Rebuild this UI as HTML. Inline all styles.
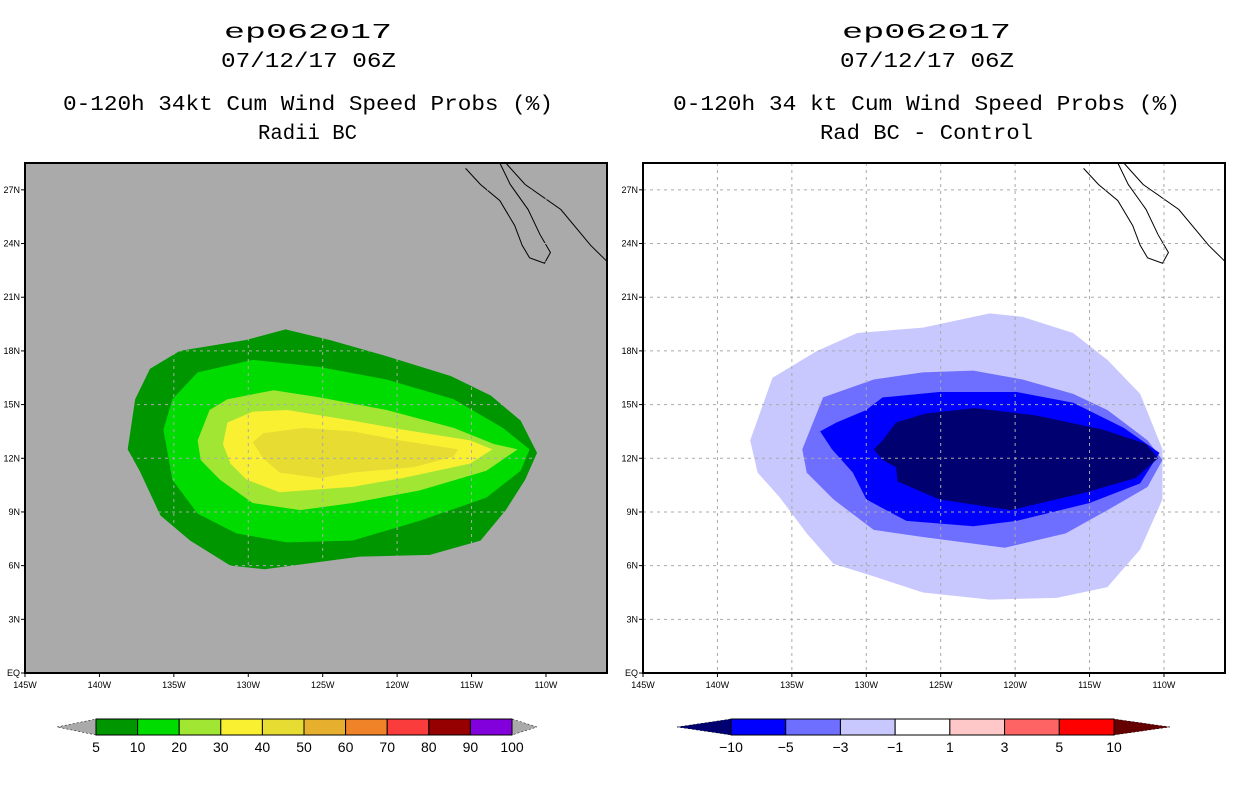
<!DOCTYPE html>
<html><head><meta charset="utf-8"><style>
body{margin:0;background:#fff;width:1236px;height:800px;overflow:hidden}
svg text{font-family:"Liberation Sans",sans-serif}
svg .ttl{font-family:"Liberation Mono",monospace}
</style></head><body>
<svg id="s" width="1236" height="800" xmlns="http://www.w3.org/2000/svg">
<g font-size="21" fill="#000" class="ttl">
<text class="ttl" x="224" y="38" textLength="168" lengthAdjust="spacingAndGlyphs">ep062017</text>
<text class="ttl" x="221" y="67" textLength="175" lengthAdjust="spacingAndGlyphs">07/12/17 06Z</text>
<text class="ttl" x="63" y="110" textLength="490" lengthAdjust="spacingAndGlyphs">0-120h 34kt Cum Wind Speed Probs (%)</text>
<text class="ttl" x="258" y="139" textLength="99" lengthAdjust="spacingAndGlyphs">Radii BC</text></g>
<g font-size="21" fill="#000">
<text class="ttl" x="842" y="38" textLength="169" lengthAdjust="spacingAndGlyphs">ep062017</text>
<text class="ttl" x="840" y="67" textLength="174" lengthAdjust="spacingAndGlyphs">07/12/17 06Z</text>
<text class="ttl" x="673" y="110" textLength="507" lengthAdjust="spacingAndGlyphs">0-120h 34 kt Cum Wind Speed Probs (%)</text>
<text class="ttl" x="820" y="139" textLength="213" lengthAdjust="spacingAndGlyphs">Rad BC - Control</text></g>
</svg>
<script>
const lonTicks=[-145,-140,-135,-130,-125,-120,-115,-110];
const latTicks=[0,3,6,9,12,15,18,21,24,27];
const leftLevels=[5,10,20,30,40,50,60,70,80,90,100];
const leftColors=["#009600","#00dc00","#a0e632","#faf032","#e6dc32","#e6af2d","#f08228","#fa3c3c","#960000","#8200dc"];
const rightLevels=[-10,-5,-3,-1,1,3,5,10];
const rightColors=["#000070","#0000ff","#6e6eff","#c8c8ff","#ffffff","#ffc8c8","#ff6464","#ff0000","#640000"];
const p5=[[-138.1,12.5],[-137.6,15.3],[-136.6,17.0],[-134.6,18.0],[-130.2,18.6],[-127.5,19.2],[-124.5,18.6],[-121.1,17.8],[-116.4,16.6],[-113.7,15.5],[-111.7,14.1],[-110.6,12.3],[-111.4,10.8],[-112.7,9.1],[-114.4,7.4],[-117.8,6.6],[-122.5,6.5],[-128.9,5.8],[-131.2,6.0],[-133.9,7.4],[-135.9,8.8],[-137.3,11.3]];
const p10=[[-135.7,13.6],[-135.1,15.3],[-133.4,16.8],[-129.7,17.5],[-125.2,17.1],[-120.7,16.4],[-116.2,15.3],[-112.9,13.7],[-111.1,12.5],[-111.7,11.3],[-114.0,9.8],[-118.5,8.5],[-123.0,7.4],[-127.4,7.3],[-130.8,7.8],[-133.4,8.9],[-135.1,10.8]];
const p20=[[-133.4,13.0],[-132.6,14.7],[-131.4,15.3],[-128.3,15.8],[-125.2,15.4],[-120.7,14.7],[-116.2,13.7],[-113.5,12.8],[-111.9,12.5],[-114.0,11.3],[-118.5,10.2],[-123.0,9.5],[-126.5,9.1],[-129.7,9.5],[-131.9,10.8],[-133.2,11.9]];
const p30=[[-131.7,12.8],[-131.4,14.0],[-129.7,14.6],[-127.4,14.7],[-123.0,14.1],[-119.6,13.6],[-115.1,13.0],[-113.6,12.5],[-115.1,11.7],[-119.6,10.9],[-123.0,10.4],[-127.9,10.1],[-130.1,10.8],[-131.2,11.7]];
const p40=[[-129.7,12.9],[-129.0,13.4],[-126.3,13.7],[-123.0,13.5],[-119.8,13.0],[-115.9,12.5],[-116.2,12.1],[-118.9,11.5],[-123.0,11.2],[-125.2,10.9],[-127.9,11.2],[-129.0,12.0]];
const d1=[[-137.8,13.0],[-136.3,16.5],[-133.3,18.0],[-130.6,19.0],[-126.2,19.3],[-121.7,20.1],[-119.5,19.9],[-116.1,19.0],[-113.8,17.5],[-111.6,15.6],[-110.1,12.5],[-110.1,9.7],[-111.6,6.9],[-113.8,4.8],[-117.2,4.2],[-121.7,4.1],[-126.2,4.5],[-129.5,5.4],[-132.2,6.1],[-134.0,7.8],[-135.8,9.8],[-137.3,11.2]];
const d3=[[-134.3,12.5],[-132.9,15.4],[-129.5,16.4],[-126.2,16.8],[-122.8,16.9],[-119.5,16.4],[-116.1,15.6],[-113.8,14.7],[-111.1,13.0],[-110.1,11.9],[-111.1,10.4],[-113.8,9.1],[-116.6,7.8],[-120.7,7.0],[-126.2,7.6],[-129.5,8.0],[-132.2,9.7],[-134.0,11.2]];
const d5=[[-133.1,13.5],[-132.0,14.0],[-130.0,14.7],[-128.9,15.4],[-125.1,15.7],[-119.9,15.7],[-116.1,15.1],[-112.7,13.7],[-110.3,12.3],[-111.6,10.6],[-115.0,9.5],[-119.9,8.5],[-122.8,8.2],[-127.3,8.5],[-130.0,9.7],[-130.9,11.2],[-132.3,12.5]];
const d10=[[-129.5,12.5],[-128.9,13.0],[-128.0,14.0],[-126.0,14.5],[-122.7,14.8],[-118.6,14.4],[-114.1,13.6],[-111.2,12.8],[-110.4,12.0],[-111.9,10.9],[-115.2,10.1],[-120.3,9.1],[-125.1,9.7],[-127.9,10.7],[-128.0,11.5],[-128.9,11.9]];
const baja=[[-115.4,28.2],[-114.4,27.3],[-113.1,26.4],[-112.1,25.0],[-111.6,23.9],[-111.1,23.2],[-110.1,22.9],[-109.7,23.5],[-110.4,24.5],[-111.2,25.9],[-112.4,27.3],[-113.1,28.5]];
const mainland=[[-112.7,28.5],[-111.4,27.3],[-109.0,25.9],[-107.0,23.9],[-105.9,23.0]];
const NS="http://www.w3.org/2000/svg",svg=document.getElementById('s');
function mk(t,a,p){const e=document.createElementNS(NS,t);for(const k in a)e.setAttribute(k,a[k]);(p||svg).appendChild(e);return e;}
const W=582,H=510,PT=163,lon0=-145,lon1=-105.9,lat0=0,lat1=28.5;
function drawPanel(x0,bg,polys,cols,name){
  const X=l=>x0+(l-lon0)/(lon1-lon0)*W, Y=l=>PT+H-(l-lat0)/(lat1-lat0)*H;
  const g=mk('g',{});
  
  
  const bgr=mk('rect',{x:x0,y:PT,width:W,height:H,fill:bg},g);
  
  
  polys.forEach((p,i)=>{
    const e=mk('polygon',{points:p.map(q=>X(q[0])+','+Y(q[1])).join(' '),fill:cols[i]},g);
    
    
  });
  [baja,mainland].forEach(c=>{
    const e=mk('polyline',{points:c.map(q=>X(q[0])+','+Y(q[1])).join(' '),fill:'none',stroke:'#000','stroke-width':1},g);
    
    
  });
  lonTicks.forEach(l=>{
    const x=X(l);
    if(l>lon0){const e=mk('line',{x1:x,x2:x,y1:PT,y2:PT+H,stroke:'#aaa','stroke-dasharray':'3,4'},g);
    }
    mk('line',{x1:x,x2:x,y1:PT+H,y2:PT+H+4,stroke:'#000'},g);
    const t=mk('text',{x:x,y:PT+H+15,'font-size':9,'text-anchor':'middle'},g);
    t.textContent=Math.abs(l)+'W';
    
  });
  latTicks.forEach(l=>{
    const y=Y(l);
    if(l>0){const e=mk('line',{x1:x0,x2:x0+W,y1:y,y2:y,stroke:'#aaa','stroke-dasharray':'3,4'},g);
    }
    mk('line',{x1:x0-4,x2:x0,y1:y,y2:y,stroke:'#000'},g);
    const t=mk('text',{x:x0-5,y:y+3,'font-size':9,'text-anchor':'end'},g);
    t.textContent=l===0?'EQ':l+'N';
    
  });
  const f=mk('rect',{x:x0,y:PT,width:W,height:H,fill:'none',stroke:'#000','stroke-width':2},g);
  
}
drawPanel(25,'#aaaaaa',[p5,p10,p20,p30,p40],leftColors,'left-map-panel');
drawPanel(643,'#ffffff',[d1,d3,d5,d10],[rightColors[3],rightColors[2],rightColors[1],rightColors[0]],'right-map-panel');
function colorbar(xs,xe,tipL,tipR,levels,cols,lc,rc,name){
  const g=mk('g',{});
  
  const n=levels.length-1,bw=(xe-xs)/n,y0=719,y1=735,ym=727;
  mk('polygon',{points:`${tipL},${ym} ${xs},${y0} ${xs},${y1}`,fill:lc,stroke:'#000','stroke-width':0.5,'stroke-dasharray':'2,2'},g);
  mk('polygon',{points:`${tipR},${ym} ${xe},${y0} ${xe},${y1}`,fill:rc,stroke:'#000','stroke-width':0.5,'stroke-dasharray':'2,2'},g);
  for(let i=0;i<n;i++){
    const r=mk('rect',{x:xs+i*bw,y:y0,width:bw,height:y1-y0,fill:cols[i],stroke:'#000','stroke-width':1},g);
    
  }
  levels.forEach((v,i)=>{
    const t=mk('text',{x:xs+i*bw,y:752,'font-size':14,'text-anchor':'middle'},g);
    t.textContent=v<0?'\u2212'+(-v):v;
    
  });
}
colorbar(96,512,57,537,leftLevels,leftColors,'#aaaaaa','#aaaaaa','left-colorbar');
colorbar(731,1114,677,1170,rightLevels,rightColors.slice(1,8),rightColors[0],rightColors[8],'right-colorbar');
</script>
</body></html>
